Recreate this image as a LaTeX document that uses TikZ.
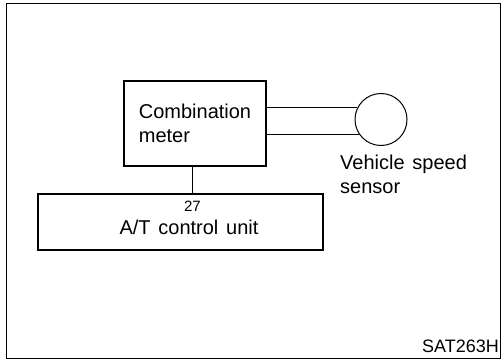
\documentclass[tikz,border=0pt]{standalone}
\usepackage{fontspec}
\setmainfont{Liberation Sans}[WordSpace=1.4]
\usetikzlibrary{positioning}
\begin{document}
\begin{tikzpicture}[x=1pt,y=-1pt,
	blk/.style={draw,line width=1.3pt,inner sep=0pt},
	lbl/.style={font=\fontsize{20}{24}\selectfont,inner sep=0pt},
	wire/.style={line width=0.8pt}]
	\useasboundingbox (0,0) rectangle (501,361);
	\draw[line width=1pt] (6,4) rectangle (500,358);

	% Units: combination meter, speed sensor and A/T control unit
	\node[blk,lbl,align=left,minimum width=142pt,minimum height=85pt] (meter) at (195,123.5) {Combination\\meter};
	\node[draw,circle,line width=1pt,minimum size=52pt,inner sep=0pt] (sensor) at (381,119.5) {};
	\node[lbl,align=left,anchor=north west] (sensorlbl) at (340,154.5) {Vehicle speed\\sensor};
	\node[blk,minimum width=285pt,minimum height=56pt] (atu) at (180.5,222) {};
	\node[font=\fontsize{15}{17}\selectfont,inner sep=0pt,anchor=base] (pin) at (192.5,211) {27};
	\node[lbl,anchor=base] (atulbl) at (189,234) {A/T control unit};

	% Wiring
	\draw[wire] (meter.east |- sensor.153) -- (sensor.153);
	\draw[wire] (meter.east |- sensor.215) -- (sensor.215);
	\draw[wire] (meter.south -| pin) -- (atu.north -| pin);

	\node[font=\fontsize{18}{20}\selectfont,inner sep=0pt,anchor=base east] (code) at (499,352) {SAT263H};
\end{tikzpicture}
\end{document}
